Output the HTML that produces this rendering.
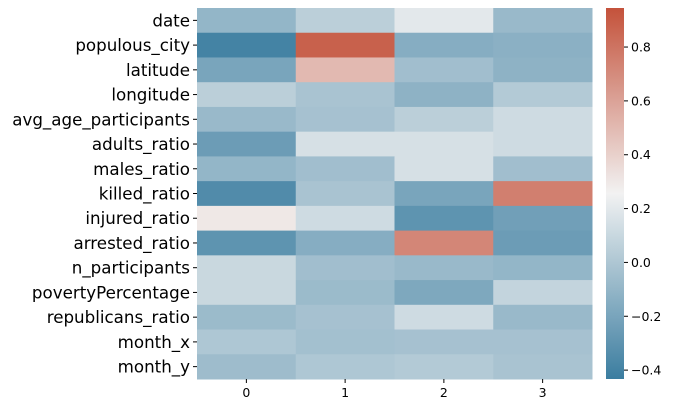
<!DOCTYPE html>
<html><head><meta charset="utf-8"><style>
body{margin:0;background:#fff;}
svg{display:block;font-family:"DejaVu Sans","Liberation Sans",sans-serif;}
</style></head><body>
<svg id="chart" width="689" height="413" viewBox="0 0 689 413" xmlns="http://www.w3.org/2000/svg"></svg>
<script>
const rows = ["date","populous_city","latitude","longitude","avg_age_participants","adults_ratio","males_ratio","killed_ratio","injured_ratio","arrested_ratio","n_participants","povertyPercentage","republicans_ratio","month_x","month_y"];
const cols = ["0","1","2","3"];
const values = [
 [-0.10,0.05,0.20,-0.08],
 [-0.40,0.88,-0.15,-0.13],
 [-0.20,0.50,-0.05,-0.12],
 [0.05,-0.02,-0.12,0.02],
 [-0.08,-0.03,0.05,0.12],
 [-0.25,0.15,0.15,0.12],
 [-0.10,-0.05,0.15,-0.05],
 [-0.35,-0.02,-0.20,0.75],
 [0.30,0.12,-0.30,-0.23],
 [-0.30,-0.15,0.72,-0.25],
 [0.10,-0.05,-0.08,-0.10],
 [0.10,-0.07,-0.18,0.08],
 [-0.07,-0.03,0.12,-0.08],
 [0.00,-0.04,-0.03,-0.03],
 [-0.06,0.00,0.02,-0.02]
];
const cbTicks = [0.8,0.6,0.4,0.2,0.0,-0.2,-0.4];
const vmin=-0.433, vmax=0.945;
const L=197,R=592,T=8,B=379;
const NS="http://www.w3.org/2000/svg";
const svg=document.getElementById('chart');
const lo=[59,125,160], mid=[242,242,242], hi=[196,82,59];
function color(v){
 let t=(v-vmin)/(vmax-vmin); t=Math.max(0,Math.min(1,t));
 let a,b,u; if(t<0.5){a=lo;b=mid;u=t/0.5;}else{a=mid;b=hi;u=(t-0.5)/0.5;}
 return 'rgb('+a.map((x,i)=>Math.round(x+(b[i]-x)*u)).join(',')+')';
}
const cw=(R-L)/cols.length, rh=(B-T)/rows.length;
function mk(tag,attrs){const e=document.createElementNS(NS,tag);for(const k in attrs)e.setAttribute(k,attrs[k]);return e;}
rows.forEach((r,i)=>{
 cols.forEach((c,j)=>{
  const e=mk('rect',{x:L+j*cw,y:T+i*rh,width:cw+0.5,height:rh+0.5,fill:color(values[i][j])});
  
  
  svg.appendChild(e);
 });
 svg.appendChild(mk('line',{x1:L-4,x2:L,y1:T+(i+0.5)*rh,y2:T+(i+0.5)*rh,stroke:'#000'}));
 const t=mk('text',{x:L-7,y:T+(i+0.5)*rh+6,'text-anchor':'end','font-size':'16.7'});
 t.textContent=r;
 
 
 svg.appendChild(t);
});
cols.forEach((c,j)=>{
 const x=L+(j+0.5)*cw;
 svg.appendChild(mk('line',{x1:x,x2:x,y1:B,y2:B+4,stroke:'#000'}));
 const t=mk('text',{x:x,y:B+18,'text-anchor':'middle','font-size':'12.5'});
 t.textContent=c;
 
 
 svg.appendChild(t);
});
const cbL=606,cbW=18;
const defs=mk('defs',{});const g=mk('linearGradient',{id:'cb',x1:0,y1:1,x2:0,y2:0});
for(let k=0;k<=20;k++){const v=vmin+(vmax-vmin)*k/20;g.appendChild(mk('stop',{offset:k/20,'stop-color':color(v)}));}
defs.appendChild(g);svg.appendChild(defs);
const cb=mk('rect',{x:cbL,y:T,width:cbW,height:B-T,fill:'url(#cb)'});


svg.appendChild(cb);
cbTicks.forEach(v=>{
 const y=B-(v-vmin)/(vmax-vmin)*(B-T);
 svg.appendChild(mk('line',{x1:cbL+cbW,x2:cbL+cbW+4,y1:y,y2:y,stroke:'#000'}));
 const t=mk('text',{x:cbL+cbW+7,y:y+4.5,'font-size':'12.5'});
 t.textContent=(v<0?'\u2212':'')+Math.abs(v).toFixed(1);
 
 
 svg.appendChild(t);
});
</script>
</body></html>
